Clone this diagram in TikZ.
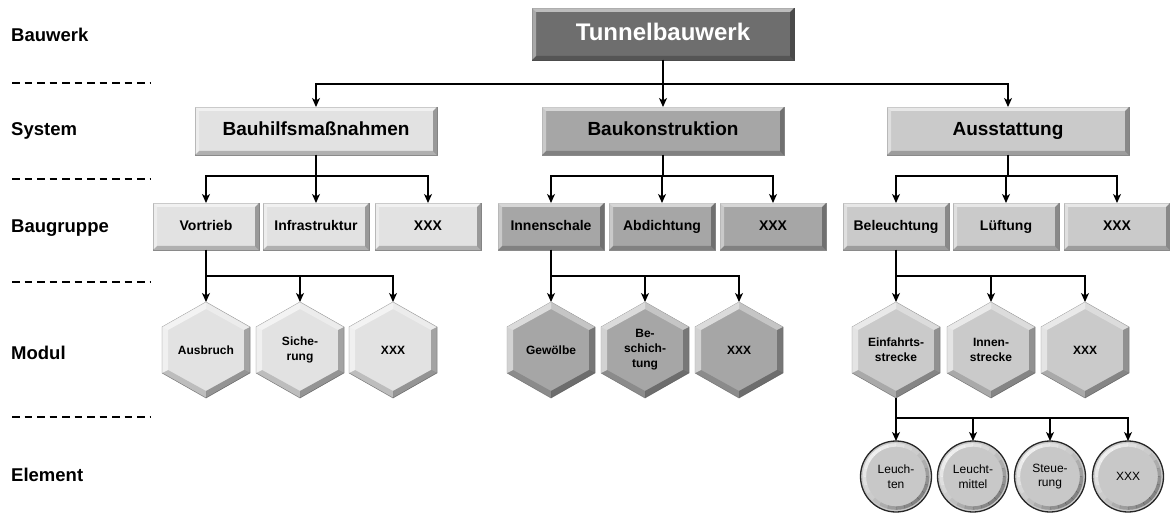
\documentclass[tikz,border=0pt]{standalone}
\usepackage{fontspec}
\setmainfont{Liberation Sans}
\usetikzlibrary{arrows.meta,calc}

\definecolor{topfill}{HTML}{6E6E6E}
\definecolor{lightfill}{HTML}{E2E2E2}
\definecolor{darkfill}{HTML}{A6A6A6}
\definecolor{midfill}{HTML}{CACACA}
\definecolor{ballfill}{HTML}{C8C8C8}
\definecolor{edge}{HTML}{8A8A8A}

\tikzset{
  box/.style={rectangle, fill=#1, draw=edge, line width=.6pt, inner sep=0pt, outer sep=0pt, align=center},
  topbox/.style={box=topfill, draw=black!70, minimum width=262pt, minimum height=52pt, text=white, text height=17.5pt, text depth=5pt, font=\fontsize{24}{28}\selectfont\bfseries},
  sysbox/.style={box=#1, minimum width=242pt, minimum height=48pt, text height=14pt, text depth=4pt, font=\fontsize{19}{22}\selectfont\bfseries},
  grpbox/.style={box=#1, minimum width=106pt, minimum height=47pt, text height=10.5pt, text depth=3pt, font=\fontsize{14}{16}\selectfont\bfseries},
  hexlabel/.style={rectangle, minimum width=88pt, minimum height=96pt, inner sep=0pt, outer sep=0pt, align=center, font=\fontsize{12}{15}\selectfont\bfseries},
  ball/.style={circle, fill=ballfill, draw=black!85, line width=1.3pt, minimum size=71pt, inner sep=0pt, outer sep=0pt, align=center, font=\fontsize{12}{14.5}\selectfont},
  level/.style={anchor=west, inner sep=0pt, font=\fontsize{18.5}{22}\selectfont\bfseries},
  sep/.style={line width=1.2pt, dash pattern=on 7.5pt off 5pt},
  link/.style={line width=1.3pt, -{Stealth[length=9pt,width=8pt,inset=2.5pt]}},
}

% bevelled edges of a rectangular node: light top/left, dark bottom/right
\newcommand\bevelrect[2][4pt]{%
  \fill[white,opacity=.55] (#2.north west) -- (#2.north east) -- ([shift={(-#1,-#1)}]#2.north east) -- ([shift={(#1,-#1)}]#2.north west) -- cycle;
  \fill[white,opacity=.4] (#2.north west) -- ([shift={(#1,-#1)}]#2.north west) -- ([shift={(#1,#1)}]#2.south west) -- (#2.south west) -- cycle;
  \fill[black,opacity=.22] (#2.south west) -- ([shift={(#1,#1)}]#2.south west) -- ([shift={(-#1,#1)}]#2.south east) -- (#2.south east) -- cycle;
  \fill[black,opacity=.32] (#2.south east) -- ([shift={(-#1,#1)}]#2.south east) -- ([shift={(-#1,-#1)}]#2.north east) -- (#2.north east) -- cycle;
}

% bevelled hexagon with its label node
\newcommand\hexmod[5]{%
  \begin{scope}[shift={(#2,#3)}]
    \filldraw[fill=#4, draw=edge, line width=.5pt] (0pt,48pt) -- (44pt,23pt) -- (44pt,-23pt) -- (0pt,-48pt) -- (-44pt,-23pt) -- (-44pt,23pt) -- cycle;
    \fill[white,opacity=.6] (0pt,48pt) -- (-44pt,23pt) -- (-38pt,20pt) -- (0pt,41pt) -- cycle;
    \fill[white,opacity=.35] (0pt,48pt) -- (44pt,23pt) -- (38pt,20pt) -- (0pt,41pt) -- cycle;
    \fill[black,opacity=.28] (44pt,23pt) -- (44pt,-23pt) -- (38pt,-20pt) -- (38pt,20pt) -- cycle;
    \fill[black,opacity=.34] (44pt,-23pt) -- (0pt,-48pt) -- (0pt,-41pt) -- (38pt,-20pt) -- cycle;
    \fill[black,opacity=.16] (0pt,-48pt) -- (-44pt,-23pt) -- (-38pt,-20pt) -- (0pt,-41pt) -- cycle;
    \fill[white,opacity=.5] (-44pt,-23pt) -- (-44pt,23pt) -- (-38pt,20pt) -- (-38pt,-20pt) -- cycle;
  \end{scope}
  \node[hexlabel] (#1) at (#2,#3) {#5};
}

% inner rim of a round element: light upper left, dark lower right
\newcommand\ballrim[1]{%
  \foreach \a in {0,15,...,345}{%
    \pgfmathsetmacro\lit{cos(\a+7.5-135)}%
    \pgfmathsetmacro\b{\a+15.5}%
    \ifdim\lit pt>0pt
      \pgfmathsetmacro\op{0.7*\lit}%
      \draw[white, opacity=\op, line width=3.5pt] ($(#1.center)+(\a:31.6pt)$) arc[start angle=\a, end angle=\b, radius=31.6pt];
    \else
      \pgfmathsetmacro\op{-0.35*\lit}%
      \draw[black, opacity=\op, line width=3.5pt] ($(#1.center)+(\a:31.6pt)$) arc[start angle=\a, end angle=\b, radius=31.6pt];
    \fi
  }%
}

\begin{document}
\begin{tikzpicture}[x=1pt, y=-1pt]
\useasboundingbox (0,0) rectangle (1170,513);

% level names and separators
\node[level] (lv1) at (11,35) {Bauwerk};
\node[level] (lv2) at (11,131) {System};
\node[level] (lv3) at (11,228) {Baugruppe};
\node[level] (lv4) at (11,353) {Modul};
\node[level] (lv5) at (11,475) {Element};
\foreach \y in {83,179,282,417}
  \draw[sep] (12,\y) -- (151,\y);

% structure
\node[topbox] (top) at (663,34) {Tunnelbauwerk};
\bevelrect{top}

\node[sysbox=lightfill] (s1) at (316,131) {Bauhilfsmaßnahmen};
\node[sysbox=darkfill]  (s2) at (663,131) {Baukonstruktion};
\node[sysbox=midfill]   (s3) at (1008,131) {Ausstattung};
\foreach \n in {s1,s2,s3} {\bevelrect{\n}}

\node[grpbox=lightfill] (g1) at (206,226.5) {Vortrieb};
\node[grpbox=lightfill] (g2) at (316,226.5) {Infrastruktur};
\node[grpbox=lightfill] (g3) at (428,226.5) {XXX};
\node[grpbox=darkfill]  (g4) at (551,226.5) {Innenschale};
\node[grpbox=darkfill]  (g5) at (662,226.5) {Abdichtung};
\node[grpbox=darkfill]  (g6) at (773,226.5) {XXX};
\node[grpbox=midfill]   (g7) at (896,226.5) {Beleuchtung};
\node[grpbox=midfill]   (g8) at (1006,226.5) {Lüftung};
\node[grpbox=midfill]   (g9) at (1117,226.5) {XXX};
\foreach \n in {g1,g2,g3,g4,g5,g6,g7,g8,g9} {\bevelrect{\n}}

\hexmod{m1}{206}{350}{lightfill}{Ausbruch}
\hexmod{m2}{300}{350}{lightfill}{Siche-\\rung}
\hexmod{m3}{393}{350}{lightfill}{XXX}
\hexmod{m4}{551}{350}{darkfill}{Gewölbe}
\hexmod{m5}{645}{350}{darkfill}{Be-\\schich-\\tung}
\hexmod{m6}{739}{350}{darkfill}{XXX}
\hexmod{m7}{896}{350}{midfill}{Einfahrts-\\strecke}
\hexmod{m8}{991}{350}{midfill}{Innen-\\strecke}
\hexmod{m9}{1085}{350}{midfill}{XXX}

\node[ball] (e1) at (896,476.5) {Leuch-\\ten};
\node[ball] (e2) at (973,476.5) {Leucht-\\mittel};
\node[ball] (e3) at (1050,476.5) {Steue-\\rung};
\node[ball] (e4) at (1128,476.5) {XXX};
\foreach \n in {e1,e2,e3,e4} {\ballrim{\n}}

% connectors
\foreach \c in {s1,s2,s3}
  \draw[link] (top.south) -- ++(0pt,-24pt) -| (\c.north);
\foreach \c in {g1,g2,g3}
  \draw[link] (s1.south) -- ++(0pt,-21pt) -| (\c.north);
\foreach \c in {g4,g5,g6}
  \draw[link] (s2.south) -- ++(0pt,-21pt) -| (\c.north);
\foreach \c in {g7,g8,g9}
  \draw[link] (s3.south) -- ++(0pt,-21pt) -| (\c.north);
\foreach \c in {m1,m2,m3}
  \draw[link] (g1.south) -- ++(0pt,-26pt) -| (\c.north);
\foreach \c in {m4,m5,m6}
  \draw[link] (g4.south) -- ++(0pt,-26pt) -| (\c.north);
\foreach \c in {m7,m8,m9}
  \draw[link] (g7.south) -- ++(0pt,-26pt) -| (\c.north);
\foreach \c in {e1,e2,e3,e4}
  \draw[link] (m7.south) -- ++(0pt,-20pt) -| (\c.north);
\end{tikzpicture}
\end{document}
